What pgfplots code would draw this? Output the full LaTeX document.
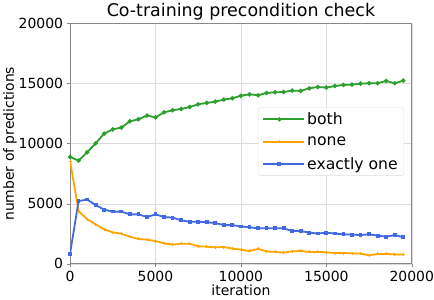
\documentclass[border=0pt]{standalone}
\usepackage{pgfplots}
\pgfplotsset{compat=1.18}
\usepackage{fontspec}
\setmainfont{DejaVu Sans}
\definecolor{cgreen}{HTML}{2CA02C}
\definecolor{corange}{HTML}{FFA500}
\definecolor{cblue}{HTML}{4169E1}
\definecolor{cgrid}{HTML}{DDDDDD}
\definecolor{cframe}{HTML}{888888}
\begin{document}
\begin{tikzpicture}
\begin{axis}[
  scale only axis,
  width=343pt, height=241pt,
  xmin=0, xmax=20000, ymin=0, ymax=20000,
  xtick={0,5000,10000,15000,20000},
  ytick={0,5000,10000,15000,20000},
  scaled ticks=false,
  /pgf/number format/assume math mode=true,
  xticklabel style={/pgf/number format/1000 sep={}, inner xsep=0pt},
  yticklabel style={/pgf/number format/1000 sep={}},
  ticklabel style={font=\fontsize{14}{16}\selectfont},
  tick align=outside, tick pos=left,
  major tick length=3.5pt,
  tick style={cframe, line width=0.6pt},
  axis line style={cframe, line width=0.7pt},
  grid=major, grid style={cgrid, line width=0.6pt},
  title={Co-training precondition check},
  title style={font=\fontsize{17.5}{19}\selectfont, yshift=-6pt},
  xlabel={iteration}, ylabel={number of predictions},
  label style={font=\fontsize{14}{16}\selectfont},
  xlabel style={yshift=3pt},
  ylabel style={yshift=-5pt},
  legend style={at={(0.977,0.651)}, anchor=north east, draw=cgrid, rounded corners=2pt,
    font=\fontsize{15.7}{18}\selectfont, row sep=6.5pt, inner xsep=4pt, inner ysep=3pt},
  legend image code/.code={\draw[#1, line width=1.8pt] (0pt,0pt) -- (16pt,0pt) plot coordinates {(16pt,0pt)} -- (32pt,0pt);\path (0pt,0pt) -- (41pt,0pt);},
  legend cell align=left,
  every axis plot/.append style={line width=1.8pt},
]
\addplot[cgreen, mark=*, mark size=1.2pt] coordinates {
(0,8900)(500,8600)(1000,9290)(1500,10040)(2000,10850)(2500,11200)(3000,11350)(3500,11870)
(4000,12040)(4500,12350)(5000,12200)(5500,12620)(6000,12790)(6500,12900)(7000,13060)
(7500,13290)(8000,13400)(8500,13510)(9000,13680)(9500,13790)(10000,14000)(10500,14120)
(11000,14040)(11500,14230)(12000,14290)(12500,14310)(13000,14430)(13500,14400)(14000,14620)
(14500,14730)(15000,14680)(15500,14810)(16000,14900)(16500,14930)(17000,15010)(17500,15040)
(18000,15040)(18500,15230)(19000,15040)(19500,15260)};
\addlegendentry{both}
\addplot[corange, mark=+, mark size=1.5pt, mark options={line width=0.8pt}] coordinates {
(0,8560)(500,4400)(1000,3710)(1500,3290)(2000,2870)(2500,2620)(3000,2510)(3500,2260)
(4000,2070)(4500,2010)(5000,1900)(5500,1710)(6000,1600)(6500,1680)(7000,1680)
(7500,1460)(8000,1430)(8500,1370)(9000,1400)(9500,1270)(10000,1180)(10500,1070)
(11000,1240)(11500,1040)(12000,990)(12500,930)(13000,1040)(13500,1070)(14000,990)
(14500,990)(15000,960)(15500,900)(16000,900)(16500,870)(17000,850)(17500,710)
(18000,820)(18500,820)(19000,790)(19500,770)};
\addlegendentry{none}
\addplot[cblue, mark=square*, mark size=1pt] coordinates {
(0,850)(500,5230)(1000,5350)(1500,4900)(2000,4510)(2500,4350)(3000,4350)(3500,4120)
(4000,4120)(4500,3900)(5000,4120)(5500,3900)(6000,3850)(6500,3620)(7000,3510)
(7500,3510)(8000,3460)(8500,3400)(9000,3230)(9500,3230)(10000,3110)(10500,3040)
(11000,2960)(11500,2960)(12000,2960)(12500,2960)(13000,2730)(13500,2730)(14000,2600)
(14500,2520)(15000,2600)(15500,2520)(16000,2460)(16500,2430)(17000,2400)(17500,2460)
(18000,2350)(18500,2260)(19000,2400)(19500,2210)};
\addlegendentry{exactly one}
\end{axis}
\end{tikzpicture}
\end{document}
